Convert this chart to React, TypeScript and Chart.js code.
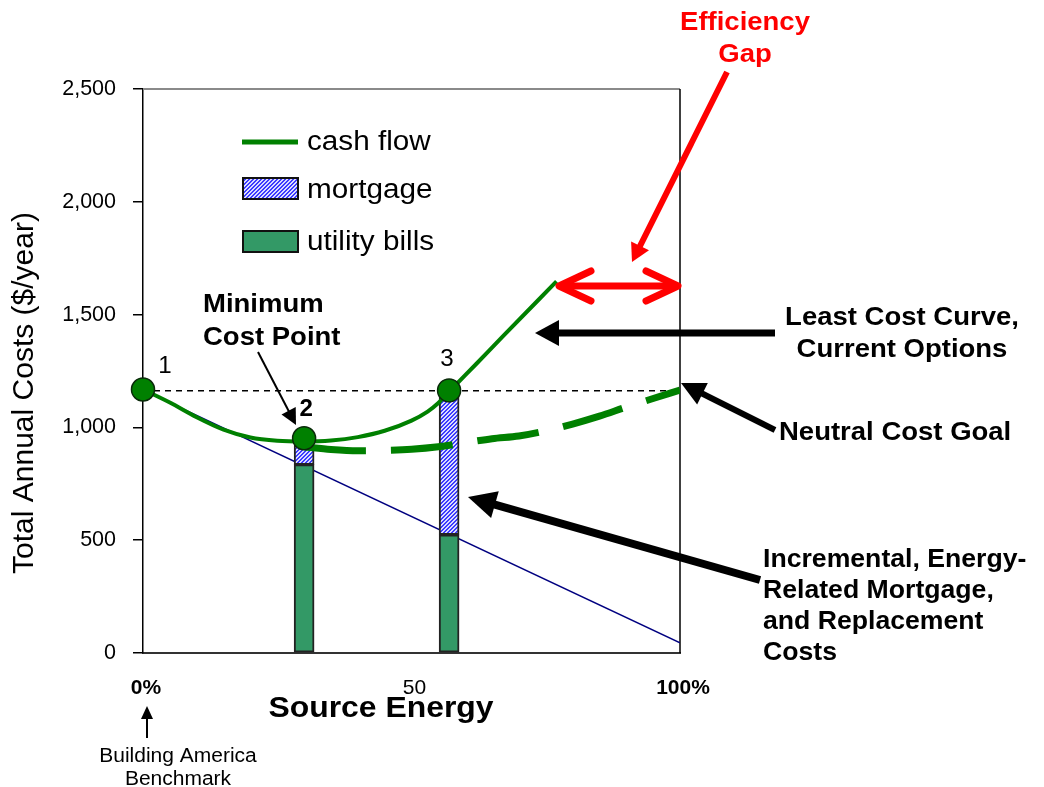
import React, { useEffect, useRef } from 'react';
import { Chart, registerables } from 'chart.js';

Chart.register(...registerables);

const FONT = 'Liberation Sans, Arial, Helvetica, sans-serif';

// ---- data ----
const xTickValues = [0, 50, 100];
const xTickLabels = ['0%', '50', '100%'];

const barX = [30, 57];
const utilityBills = [835, 524];
const mortgage = [85, 636];

const cashFlowX = [0, 5, 10, 15, 20, 25, 30, 35, 40, 45, 50, 53, 55, 57, 62, 67, 77];
const cashFlowY = [1168, 1110, 1045, 990, 955, 941, 938, 942, 957, 985, 1030, 1070, 1108, 1158, 1280, 1403, 1647];

const goalX = [30, 35, 40, 45, 50, 55, 60, 65, 70, 75, 80, 85, 90, 95, 100];
const goalY = [914, 902, 896, 898, 903, 914, 932, 950, 962, 985, 1015, 1050, 1090, 1128, 1165];

const utilityOnlyX = [0, 100];
const utilityOnlyY = [1165, 45];

const neutralX = [0, 100];
const neutralY = [1162, 1162];

const pointX = [0, 30, 57];
const pointY = [1168, 952, 1164];
const pointLabels = ['1', '2', '3'];

const legendLabels = ['cash flow', 'mortgage', 'utility bills'];

const xTitle = 'Source Energy';
const yTitle = 'Total Annual Costs ($/year)';

const GREEN = '#008000';
const UTIL = '#339966';
const RED = '#ff0000';

function zip(xs: number[], ys: number[]) {
  return xs.map((x, i) => ({ x, y: ys[i] }));
}

function makeHatch(): CanvasPattern | string {
  const c = document.createElement('canvas');
  c.width = 4;
  c.height = 4;
  const g = c.getContext('2d');
  if (!g) return '#aab0f0';
  g.fillStyle = '#dcdcff';
  g.fillRect(0, 0, 4, 4);
  g.fillStyle = '#3c3cff';
  for (let i = 0; i < 4; i++) {
    g.fillRect(i, 3 - i, 1, 1);
    g.fillRect((i + 1) % 4, 3 - i, 1, 1);
  }
  const p = g.createPattern(c, 'repeat');
  return p || '#aab0f0';
}

function txt(ctx: CanvasRenderingContext2D, s: string, x: number, y: number, font: string, color: string, align: 'left' | 'center' | 'right' = 'left', sx = 1.1) {
  ctx.save();
  ctx.font = font;
  ctx.fillStyle = color;
  ctx.textBaseline = 'alphabetic';
  ctx.textAlign = 'left';
  const w = ctx.measureText(s).width * sx;
  const x0 = align === 'center' ? x - w / 2 : align === 'right' ? x - w : x;
  ctx.translate(x0, y);
  ctx.scale(sx, 1);
  ctx.fillText(s, 0, 0);
  ctx.restore();
}

function arrow(ctx: CanvasRenderingContext2D, x1: number, y1: number, x2: number, y2: number, width: number, headLen: number, headW: number, color: string) {
  const a = Math.atan2(y2 - y1, x2 - x1);
  const c = Math.cos(a);
  const s = Math.sin(a);
  const bx = x2 - headLen * c;
  const by = y2 - headLen * s;
  ctx.save();
  ctx.strokeStyle = color;
  ctx.fillStyle = color;
  ctx.lineWidth = width;
  ctx.lineCap = 'butt';
  ctx.beginPath();
  ctx.moveTo(x1, y1);
  ctx.lineTo(bx + c * 1, by + s * 1);
  ctx.stroke();
  ctx.beginPath();
  ctx.moveTo(x2, y2);
  ctx.lineTo(bx - (headW / 2) * s, by + (headW / 2) * c);
  ctx.lineTo(bx + (headW / 2) * s, by - (headW / 2) * c);
  ctx.closePath();
  ctx.fill();
  ctx.restore();
}

function chevron(ctx: CanvasRenderingContext2D, tx: number, ty: number, dir: number, color: string) {
  ctx.save();
  ctx.strokeStyle = color;
  ctx.lineWidth = 7;
  ctx.lineCap = 'round';
  ctx.lineJoin = 'round';
  ctx.beginPath();
  ctx.moveTo(tx + dir * 32, ty - 15);
  ctx.lineTo(tx, ty);
  ctx.lineTo(tx + dir * 32, ty + 15);
  ctx.stroke();
  ctx.restore();
}

const overlayPlugin = {
  id: 'overlay',
  beforeDatasetsDraw(chart: any) {
    const { ctx, chartArea } = chart;
    ctx.save();
    ctx.strokeStyle = '#8a8a8a';
    ctx.lineWidth = 2;
    ctx.beginPath();
    ctx.moveTo(chartArea.left, chartArea.top);
    ctx.lineTo(chartArea.right, chartArea.top);
    ctx.stroke();
    ctx.strokeStyle = '#000';
    ctx.lineWidth = 1.5;
    ctx.beginPath();
    ctx.moveTo(chartArea.right, chartArea.top);
    ctx.lineTo(chartArea.right, chartArea.bottom);
    ctx.stroke();
    ctx.restore();
  },
  afterDraw(chart: any) {
    const { ctx, chartArea } = chart;
    const hatch = chart.$hatch;
    const B25 = `bold 25px ${FONT}`;

    // axis titles
    ctx.save();
    ctx.translate(33, 393);
    ctx.rotate(-Math.PI / 2);
    ctx.font = `30px ${FONT}`;
    ctx.fillStyle = '#000';
    ctx.textAlign = 'center';
    ctx.textBaseline = 'alphabetic';
    ctx.fillText(yTitle, 0, 0);
    ctx.restore();
    txt(ctx, xTitle, chartArea.left + 238, 717, `bold 29px ${FONT}`, '#000', 'center', 1.1);

    // legend
    ctx.save();
    ctx.strokeStyle = GREEN;
    ctx.lineWidth = 5;
    ctx.beginPath();
    ctx.moveTo(242, 142);
    ctx.lineTo(298, 142);
    ctx.stroke();
    ctx.fillStyle = hatch;
    ctx.fillRect(243, 178, 55, 21);
    ctx.strokeStyle = '#111';
    ctx.lineWidth = 2;
    ctx.strokeRect(243, 178, 55, 21);
    ctx.fillStyle = UTIL;
    ctx.fillRect(243, 231, 55, 21);
    ctx.strokeRect(243, 231, 55, 21);
    ctx.restore();
    const L27 = `27px ${FONT}`;
    txt(ctx, legendLabels[0], 307, 150, L27, '#000');
    txt(ctx, legendLabels[1], 307, 198, L27, '#000');
    txt(ctx, legendLabels[2], 307, 250, L27, '#000');

    // point labels
    const xs = chart.scales.x;
    const ys = chart.scales.y;
    const labelOffsets = [[22, -16], [2, -22], [-2, -24]];
    pointLabels.forEach((lab, i) => {
      const px = xs.getPixelForValue(pointX[i]) + labelOffsets[i][0];
      const py = ys.getPixelForValue(pointY[i]) + labelOffsets[i][1];
      txt(ctx, lab, px, py, `${i === 1 ? 'bold ' : ''}23px ${FONT}`, '#000', 'center', 1.05);
    });

    // Minimum cost point
    txt(ctx, 'Minimum', 203, 312, B25, '#000');
    txt(ctx, 'Cost Point', 203, 345, B25, '#000');
    arrow(ctx, 258, 352, 296, 425, 2, 16, 16, '#000');

    // Efficiency gap
    txt(ctx, 'Efficiency', 745, 30, B25, RED, 'center');
    txt(ctx, 'Gap', 745, 62, B25, RED, 'center');
    arrow(ctx, 727, 72, 632, 262, 6, 18, 20, RED);
    ctx.save();
    ctx.strokeStyle = RED;
    ctx.lineWidth = 7;
    ctx.lineCap = 'round';
    ctx.beginPath();
    ctx.moveTo(562, 286);
    ctx.lineTo(675, 286);
    ctx.stroke();
    ctx.restore();
    chevron(ctx, 559, 286, 1, RED);
    chevron(ctx, 678, 286, -1, RED);

    // Least cost curve
    arrow(ctx, 775, 333, 535, 333, 7, 24, 26, '#000');
    txt(ctx, 'Least Cost Curve,', 902, 325, B25, '#000', 'center');
    txt(ctx, 'Current Options', 902, 357, B25, '#000', 'center');

    // Neutral cost goal
    arrow(ctx, 775, 430, 681, 383, 6, 24, 24, '#000');
    txt(ctx, 'Neutral Cost Goal', 779, 440, B25, '#000');

    // Incremental costs
    arrow(ctx, 760, 580, 468, 497, 8, 28, 28, '#000');
    const sI = 1.065;
    txt(ctx, 'Incremental, Energy-', 763, 567, B25, '#000', 'left', sI);
    txt(ctx, 'Related Mortgage,', 763, 598, B25, '#000', 'left', sI);
    txt(ctx, 'and Replacement', 763, 629, B25, '#000', 'left', sI);
    txt(ctx, 'Costs', 763, 660, B25, '#000', 'left', sI);

    // Building America benchmark
    arrow(ctx, 147, 738, 147, 706, 2, 13, 12, '#000');
    txt(ctx, 'Building America', 178, 762, `20px ${FONT}`, '#000', 'center', 1.05);
    txt(ctx, 'Benchmark', 178, 785, `20px ${FONT}`, '#000', 'center', 1.05);
  },
};

export default function App() {
  const ref = useRef<HTMLCanvasElement | null>(null);

  useEffect(() => {
    if (!ref.current) return;
    Chart.defaults.font.family = FONT;
    Chart.defaults.color = '#000';
    const hatch = makeHatch();

    const chart: any = new Chart(ref.current, {
      type: 'bar',
      data: {
        datasets: [
          {
            type: 'line',
            label: 'points',
            data: zip(pointX, pointY),
            showLine: false,
            clip: false,
            pointRadius: 11.5,
            pointBackgroundColor: GREEN,
            pointBorderColor: '#0a2a0a',
            pointBorderWidth: 1.5,
            order: 1,
          } as any,
          {
            type: 'line',
            label: legendLabels[0],
            data: zip(cashFlowX, cashFlowY),
            borderColor: GREEN,
            borderWidth: 4,
            pointRadius: 0,
            cubicInterpolationMode: 'monotone',
            fill: false,
            order: 2,
          } as any,
          {
            type: 'line',
            label: 'goal',
            data: zip(goalX, goalY),
            borderColor: GREEN,
            borderWidth: 7,
            borderDash: [62, 25],
            borderCapStyle: 'butt',
            pointRadius: 0,
            cubicInterpolationMode: 'monotone',
            fill: false,
            order: 3,
          } as any,
          {
            type: 'line',
            label: 'neutral',
            data: zip(neutralX, neutralY),
            borderColor: '#000',
            borderWidth: 1.5,
            borderDash: [6, 5],
            pointRadius: 0,
            tension: 0,
            fill: false,
            order: 4,
          } as any,
          {
            type: 'bar',
            label: legendLabels[1],
            data: barX.map((x, i) => ({ x, y: [utilityBills[i], utilityBills[i] + mortgage[i]] })),
            backgroundColor: hatch,
            borderColor: '#222',
            borderWidth: 2,
            borderSkipped: false,
            barThickness: 20,
            grouped: false,
            order: 5,
          } as any,
          {
            type: 'bar',
            label: legendLabels[2],
            data: barX.map((x, i) => ({ x, y: utilityBills[i] })),
            backgroundColor: UTIL,
            borderColor: '#222',
            borderWidth: 2,
            borderSkipped: false,
            barThickness: 20,
            grouped: false,
            order: 5,
          } as any,
          {
            type: 'line',
            label: 'utility only',
            data: zip(utilityOnlyX, utilityOnlyY),
            borderColor: '#000080',
            borderWidth: 1.5,
            pointRadius: 0,
            tension: 0,
            fill: false,
            order: 6,
          } as any,
        ],
      },
      options: {
        responsive: false,
        animation: false,
        events: [],
        layout: { padding: { left: 6, top: 89, right: 364, bottom: 61 } },
        plugins: {
          legend: { display: false },
          tooltip: { enabled: false },
          title: { display: false },
        },
        scales: {
          x: {
            type: 'linear',
            min: 0,
            max: 100,
            offset: false,
            grid: { display: false, drawTicks: false },
            border: { display: true, color: '#333', width: 2 },
            ticks: {
              stepSize: 50,
              autoSkip: false,
              maxRotation: 0,
              padding: 23,
              labelOffset: 3,
              color: '#000',
              callback: (v: any) => {
                const i = xTickValues.indexOf(Number(v));
                return i >= 0 ? xTickLabels[i] : '';
              },
              font: (c: any) => ({
                family: FONT,
                size: 21,
                weight: c.tick && c.tick.value === 50 ? 'normal' : 'bold',
              }),
            },
            title: { display: false },
            afterFit: (s: any) => {
              s.height = 73;
            },
          },
          y: {
            type: 'linear',
            min: 0,
            max: 2500,
            grid: { drawOnChartArea: false, drawTicks: true, tickLength: 10, color: '#000', lineWidth: 1.5 },
            border: { display: true, color: '#000', width: 1.5 },
            ticks: {
              stepSize: 500,
              padding: 17,
              color: '#000',
              font: { family: FONT, size: 21.5 },
              callback: (v: any) => Number(v).toLocaleString('en-US'),
            },
            title: { display: false },
            afterFit: (s: any) => {
              s.width = 137;
            },
          },
        },
      } as any,
      plugins: [overlayPlugin],
    });
    chart.$hatch = hatch;
    chart.draw();

    return () => {
      chart.destroy();
    };
  }, []);

  return (
    <div style={{ position: 'absolute', left: 0, top: 0, width: 1044, height: 787, background: '#fff' }}>
      <canvas ref={ref} width={1044} height={787} style={{ display: 'block' }} />
    </div>
  );
}
